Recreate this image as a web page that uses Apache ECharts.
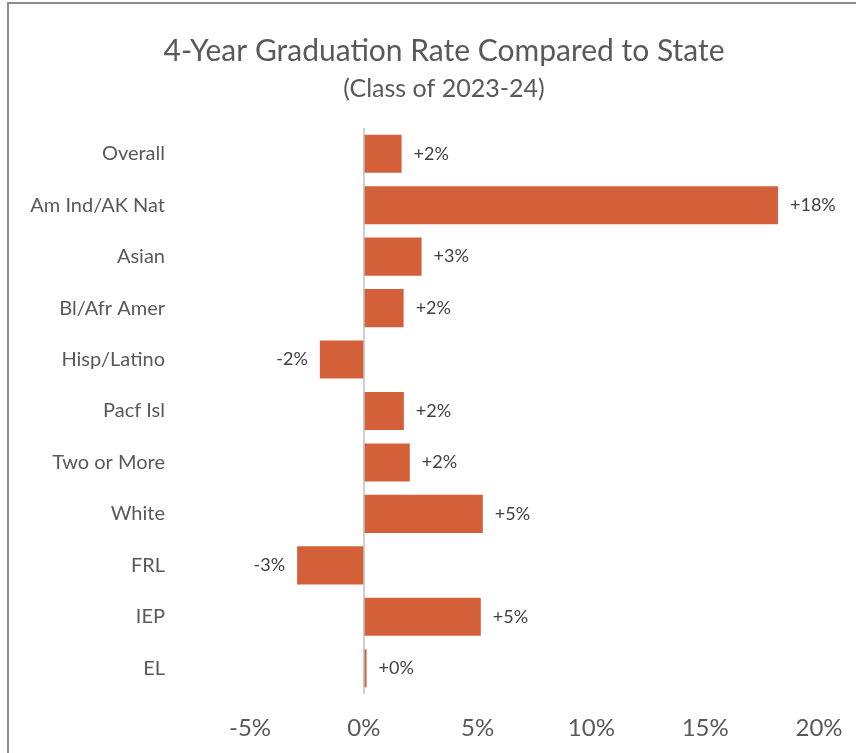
<!DOCTYPE html>
<html>
<head>
<meta charset="utf-8">
<script src="https://cdn.jsdelivr.net/npm/echarts@6/dist/echarts.min.js"></script>
<style>
  html, body { margin: 0; padding: 0; background: #fff; }
  #chart { width: 856px; height: 753px; }
</style>
</head>
<body>
<div id="chart"></div>
<script>
// 学生群体（自上而下）
const categories = ['Overall', 'Am Ind/AK Nat', 'Asian', 'Bl/Afr Amer', 'Hisp/Latino',
  'Pacf Isl', 'Two or More', 'White', 'FRL', 'IEP', 'EL'];
// 与州平均值的差（百分点）
const diffValues = [1.66, 18.2, 2.54, 1.75, -1.93, 1.76, 2.02, 5.23, -2.93, 5.14, 0.12];
const axisTicks = [-5, 0, 5, 10, 15, 20];

const chart = echarts.init(document.getElementById('chart'), null, { renderer: 'canvas' });

const gray = '#595959';
const font = 'Lato, "Open Sans", sans-serif';

let option = {
  animation: false,
  backgroundColor: '#fff',
  title: [
    {
      text: '4-Year Graduation Rate Compared to State',
      left: 439, top: 31, textAlign: 'center',
      textStyle: { fontFamily: font, fontSize: 30, fontWeight: 'normal', color: gray }
    },
    {
      text: '(Class of 2023-24)',
      left: 439, top: 71, textAlign: 'center',
      textStyle: { fontFamily: font, fontSize: 25, fontWeight: 'normal', color: gray }
    }
  ],
  graphic: [
    {
      type: 'rect', silent: true,
      shape: { x: 8, y: 3, width: 900, height: 800 },
      style: { fill: 'none', stroke: '#8c8c8c', lineWidth: 2 }
    }
  ],
  grid: { left: 250, right: 37, top: 128, bottom: 59 },
  xAxis: {
    type: 'value',
    min: axisTicks[0],
    max: axisTicks[axisTicks.length - 1],
    interval: 5,
    axisLine: { show: false },
    axisTick: { show: false },
    splitLine: { show: false },
    axisLabel: {
      formatter: '{value}%', margin: 22,
      fontFamily: font, fontSize: 24, color: gray
    }
  },
  yAxis: {
    type: 'category',
    data: categories,
    inverse: true,
    axisLine: { show: false },
    axisTick: { show: false },
    axisLabel: { margin: 85, fontFamily: font, fontSize: 20, color: gray }
  },
  series: [{
    type: 'bar',
    data: diffValues.map(v => ({
      value: v,
      label: { position: v < 0 ? 'left' : 'right' }
    })),
    barCategoryGap: '26%',
    itemStyle: { color: '#D4603A' },
    label: {
      show: true,
      distance: 12,
      fontFamily: font, fontSize: 18, color: '#404040',
      formatter: p => (p.value < 0 ? '-' : '+') + Math.abs(Math.round(p.value)) + '%'
    },
    markLine: {
      silent: true,
      symbol: 'none',
      label: { show: false },
      lineStyle: { color: '#bfbfbf', width: 1.5, type: 'solid' },
      data: [{ xAxis: 0 }]
    }
  }]
};

chart.setOption(option);
window.addEventListener('resize', () => chart.resize());
</script>
</body>
</html>
